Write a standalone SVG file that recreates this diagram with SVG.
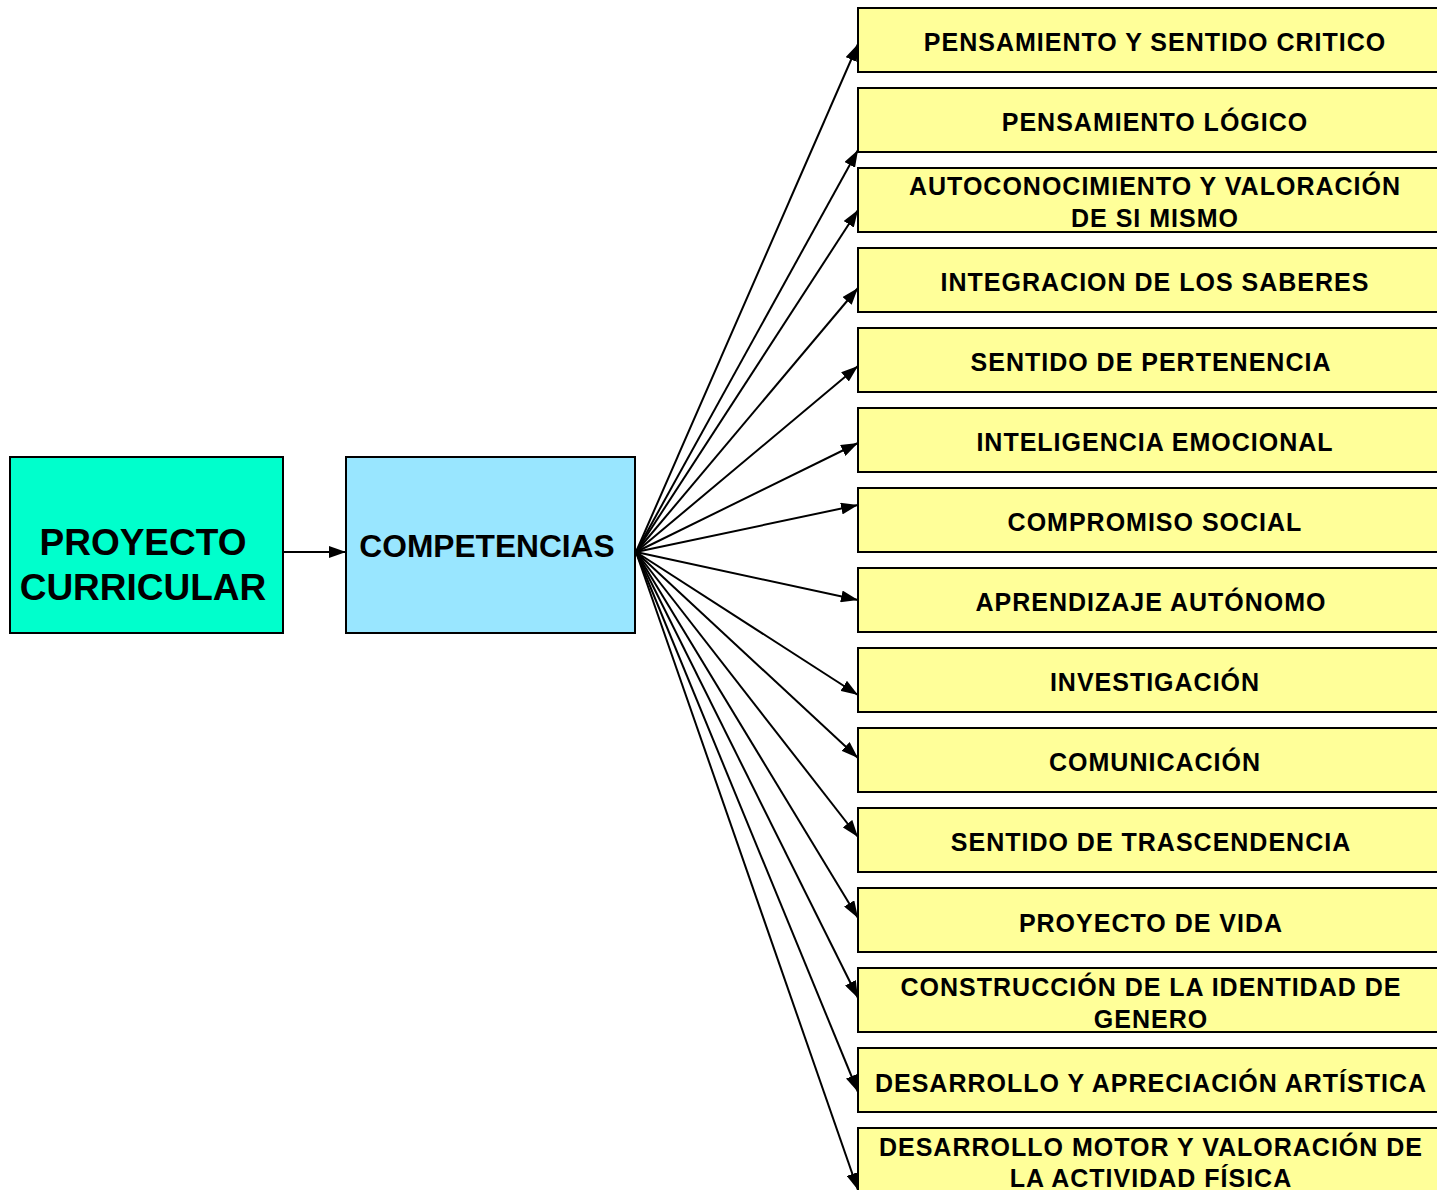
<svg xmlns="http://www.w3.org/2000/svg" width="1437" height="1190" viewBox="0 0 1437 1190">
<style>
.box{stroke:#000;stroke-width:2}
.y{fill:#FFFF99}
.t{font-family:"Liberation Sans",Arial,sans-serif;font-weight:bold;fill:#000;text-anchor:middle}
.s{font-size:25px;letter-spacing:1px}
.c{stroke:#000;stroke-width:2;fill:none;marker-end:url(#ah)}
</style>
<defs>
<marker id="ah" markerUnits="userSpaceOnUse" markerWidth="17" markerHeight="12" refX="17" refY="6" orient="auto">
<path d="M0,0 L17,6 L0,12 z" fill="#000"/>
</marker>
</defs>
<rect width="1437" height="1190" fill="#fff"/>
<g id="connectors">
<line class="c" x1="283" y1="552" x2="346" y2="552"/>
<line class="c" x1="636" y1="552" x2="858" y2="44"/>
<line class="c" x1="636" y1="552" x2="858" y2="150"/>
<line class="c" x1="636" y1="552" x2="858" y2="210"/>
<line class="c" x1="636" y1="552" x2="858" y2="288"/>
<line class="c" x1="636" y1="552" x2="858" y2="366"/>
<line class="c" x1="636" y1="552" x2="858" y2="443"/>
<line class="c" x1="636" y1="552" x2="858" y2="505"/>
<line class="c" x1="636" y1="552" x2="858" y2="600"/>
<line class="c" x1="636" y1="552" x2="858" y2="695"/>
<line class="c" x1="636" y1="552" x2="858" y2="758"/>
<line class="c" x1="636" y1="552" x2="858" y2="837"/>
<line class="c" x1="636" y1="552" x2="858" y2="918"/>
<line class="c" x1="636" y1="552" x2="858" y2="998"/>
<line class="c" x1="636" y1="552" x2="858" y2="1092"/>
<line class="c" x1="636" y1="552" x2="858" y2="1190"/>
</g>
<g id="proyecto-curricular">
<rect class="box" x="10" y="457" width="273" height="176" fill="#00FFCC"/>
<text class="t" x="143" y="555" font-size="37">PROYECTO</text>
<text class="t" x="143" y="600" font-size="37">CURRICULAR</text>
</g>
<g id="competencias">
<rect class="box" x="346" y="457" width="289" height="176" fill="#99E6FF"/>
<text class="t" x="487" y="557" font-size="31.7">COMPETENCIAS</text>
</g>
<g id="n1"><rect class="box y" x="858" y="8" width="600" height="64"/><text class="t s" x="1155" y="51">PENSAMIENTO Y SENTIDO CRITICO</text></g>
<g id="n2"><rect class="box y" x="858" y="88" width="600" height="64"/><text class="t s" x="1155" y="131">PENSAMIENTO LÓGICO</text></g>
<g id="n3"><rect class="box y" x="858" y="168" width="600" height="64"/><text class="t s" x="1155" y="195">AUTOCONOCIMIENTO Y VALORACIÓN</text><text class="t s" x="1155" y="227">DE SI MISMO</text></g>
<g id="n4"><rect class="box y" x="858" y="248" width="600" height="64"/><text class="t s" x="1155" y="291">INTEGRACION DE LOS SABERES</text></g>
<g id="n5"><rect class="box y" x="858" y="328" width="600" height="64"/><text class="t s" x="1151" y="371">SENTIDO DE PERTENENCIA</text></g>
<g id="n6"><rect class="box y" x="858" y="408" width="600" height="64"/><text class="t s" x="1155" y="451">INTELIGENCIA EMOCIONAL</text></g>
<g id="n7"><rect class="box y" x="858" y="488" width="600" height="64"/><text class="t s" x="1155" y="531">COMPROMISO SOCIAL</text></g>
<g id="n8"><rect class="box y" x="858" y="568" width="600" height="64"/><text class="t s" x="1151" y="611">APRENDIZAJE AUTÓNOMO</text></g>
<g id="n9"><rect class="box y" x="858" y="648" width="600" height="64"/><text class="t s" x="1155" y="691">INVESTIGACIÓN</text></g>
<g id="n10"><rect class="box y" x="858" y="728" width="600" height="64"/><text class="t s" x="1155" y="771">COMUNICACIÓN</text></g>
<g id="n11"><rect class="box y" x="858" y="808" width="600" height="64"/><text class="t s" x="1151" y="851">SENTIDO DE TRASCENDENCIA</text></g>
<g id="n12"><rect class="box y" x="858" y="888" width="600" height="64"/><text class="t s" x="1151" y="932">PROYECTO DE VIDA</text></g>
<g id="n13"><rect class="box y" x="858" y="968" width="600" height="64"/><text class="t s" x="1151" y="996">CONSTRUCCIÓN DE LA IDENTIDAD DE</text><text class="t s" x="1151" y="1028">GENERO</text></g>
<g id="n14"><rect class="box y" x="858" y="1048" width="600" height="64"/><text class="t s" x="1151" y="1092">DESARROLLO Y APRECIACIÓN ARTÍSTICA</text></g>
<g id="n15"><rect class="box y" x="858" y="1128" width="600" height="64"/><text class="t s" x="1151" y="1156">DESARROLLO MOTOR Y VALORACIÓN DE</text><text class="t s" x="1151" y="1187">LA ACTIVIDAD FÍSICA</text></g>
</svg>
